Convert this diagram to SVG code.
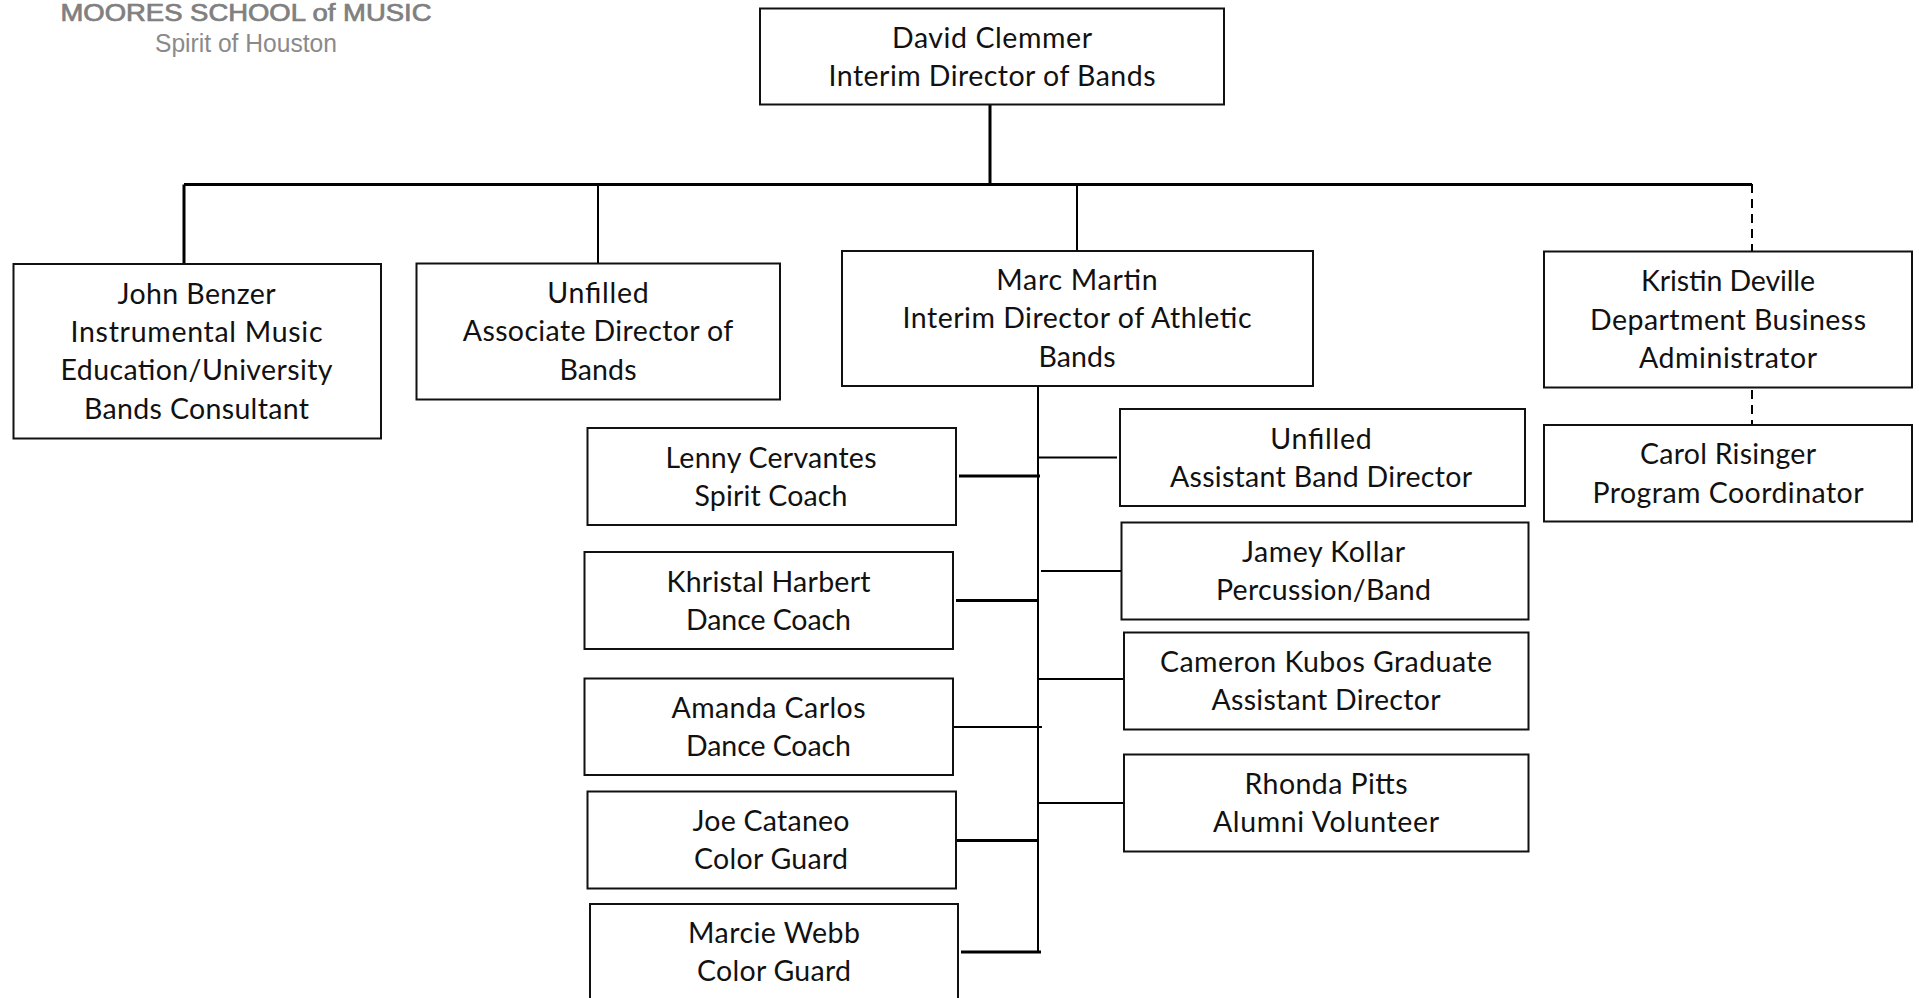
<svg xmlns="http://www.w3.org/2000/svg" width="1919" height="998" viewBox="0 0 1919 998">
<style>
.box{fill:#fff;stroke:#111;stroke-width:2}
text{font-family:"Lato","Open Sans","Liberation Sans",sans-serif;font-size:28.5px;fill:#111;text-anchor:middle}
text.logo1{font-family:"Liberation Sans",sans-serif;font-size:23px;fill:#808080;stroke:#808080;stroke-width:.7}
text.logo2{font-family:"Liberation Sans",sans-serif;font-size:25px;fill:#8a8a8a}
.c{fill:none;stroke:#000;stroke-width:2}
.t{fill:none;stroke:#000;stroke-width:3}
.d{fill:none;stroke:#000;stroke-width:2;stroke-dasharray:9 6}
</style>
<rect width="1919" height="998" fill="#fff"/>
<g id="logo">
<text class="logo1" x="246" y="21" textLength="371" lengthAdjust="spacingAndGlyphs">MOORES SCHOOL of MUSIC</text>
<text class="logo2" x="246" y="52" textLength="182" lengthAdjust="spacingAndGlyphs">Spirit of Houston</text>
</g>
<g id="connectors">
<path class="t" d="M990 104V184.500M184 184.500H1752M184 184.500V264"/>
<path class="c" d="M598 184V263M1077 184V251M1038 387V953"/>
<path class="d" d="M1752 184V251M1752 390V425"/>
<path class="t" d="M959 476H1040M956 600.500H1037M957 840.500H1038M961 952H1041"/>
<path class="c" d="M953 727H1042M1038 457.600H1117M1041 571H1121M1039 679H1124M1039 803H1124"/>
</g>
<g id="david"><rect class="box" x="760" y="8.500" width="464" height="96"/><text x="992" y="47.500" textLength="200">David Clemmer</text><text x="992" y="85.500" textLength="327">Interim Director of Bands</text></g>
<g id="john"><rect class="box" x="13.500" y="264" width="367.500" height="174.500"/><text x="196.500" y="304" textLength="158">John Benzer</text><text x="196.500" y="341.800" textLength="252">Instrumental Music</text><text x="196.500" y="380.200" textLength="272">Education/University</text><text x="196.500" y="418.600" textLength="225">Bands Consultant</text></g>
<g id="unfilled-associate"><rect class="box" x="416.500" y="263.500" width="363.500" height="136"/><text x="598" y="302.600" textLength="101.500">Unfilled</text><text x="598" y="341" textLength="270.500">Associate Director of</text><text x="598" y="380" textLength="77">Bands</text></g>
<g id="marc"><rect class="box" x="842" y="251" width="471" height="135"/><text x="1077" y="289.500" textLength="161.500">Marc Martin</text><text x="1077" y="328" textLength="349">Interim Director of Athletic</text><text x="1077" y="366.500" textLength="77">Bands</text></g>
<g id="kristin"><rect class="box" x="1544" y="251.500" width="368" height="136"/><text x="1728" y="291" textLength="174">Kristin Deville</text><text x="1728" y="330" textLength="276">Department Business</text><text x="1728" y="368" textLength="178">Administrator</text></g>
<g id="carol"><rect class="box" x="1544" y="425" width="368" height="96.500"/><text x="1728" y="463.500" textLength="176">Carol Risinger</text><text x="1728" y="503" textLength="271">Program Coordinator</text></g>
<g id="lenny"><rect class="box" x="587.500" y="428" width="368.500" height="97"/><text x="771" y="467.500" textLength="211">Lenny Cervantes</text><text x="771" y="505.500" textLength="153">Spirit Coach</text></g>
<g id="khristal"><rect class="box" x="584.500" y="552" width="368.500" height="97"/><text x="768.500" y="591.500" textLength="204">Khristal Harbert</text><text x="768.500" y="629.500" textLength="165">Dance Coach</text></g>
<g id="amanda"><rect class="box" x="584.500" y="678.500" width="368.500" height="96.500"/><text x="768.500" y="717.500" textLength="194">Amanda Carlos</text><text x="768.500" y="755.500" textLength="165">Dance Coach</text></g>
<g id="joe"><rect class="box" x="587.500" y="791.500" width="368.500" height="97"/><text x="771" y="831" textLength="157">Joe Cataneo</text><text x="771" y="868.500" textLength="154">Color Guard</text></g>
<g id="marcie"><rect class="box" x="590" y="904" width="368" height="100"/><text x="774" y="943" textLength="172">Marcie Webb</text><text x="774" y="981" textLength="154">Color Guard</text></g>
<g id="unfilled-assistant"><rect class="box" x="1120" y="409" width="405" height="97"/><text x="1321" y="449" textLength="101.500">Unfilled</text><text x="1321" y="486.500" textLength="302">Assistant Band Director</text></g>
<g id="jamey"><rect class="box" x="1121.500" y="522.500" width="407" height="97"/><text x="1323.500" y="561.500" textLength="163">Jamey Kollar</text><text x="1323.500" y="599.500" textLength="215">Percussion/Band</text></g>
<g id="cameron"><rect class="box" x="1124" y="632.500" width="404.500" height="97"/><text x="1326" y="672" textLength="332">Cameron Kubos Graduate</text><text x="1326" y="710" textLength="229">Assistant Director</text></g>
<g id="rhonda"><rect class="box" x="1124" y="754.500" width="404.500" height="97"/><text x="1326" y="794" textLength="163">Rhonda Pitts</text><text x="1326" y="832" textLength="226">Alumni Volunteer</text></g>
</svg>
